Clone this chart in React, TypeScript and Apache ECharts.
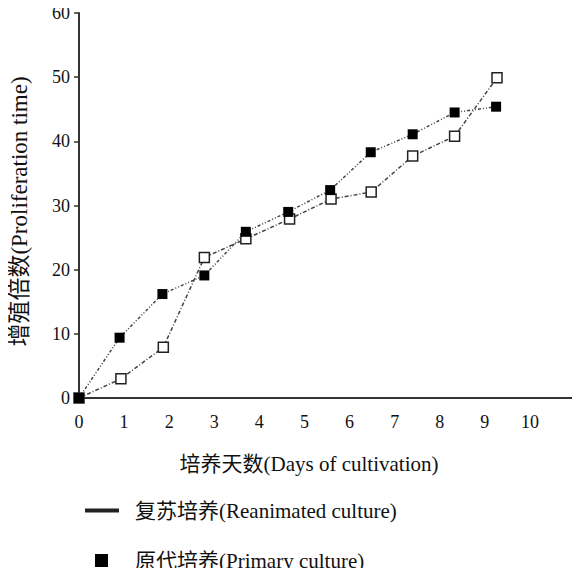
import React, { useEffect, useRef } from "react";
import * as echarts from "echarts";

const primaryDays = [0, 0.9, 1.85, 2.78, 3.7, 4.64, 5.57, 6.47, 7.4, 8.33, 9.25];
const primaryValues = [0, 9.4, 16.2, 19.1, 25.9, 29.0, 32.4, 38.3, 41.1, 44.5, 45.4];
const reanimatedDays = [0, 0.93, 1.87, 2.78, 3.7, 4.67, 5.59, 6.48, 7.4, 8.33, 9.27];
const reanimatedValues = [0, 3.0, 7.9, 21.9, 24.8, 27.9, 31.0, 32.1, 37.7, 40.8, 49.9];

const xAxisName = "培养天数(Days of cultivation)";
const yAxisName = "增殖倍数(Proliferation time)";
const reanimatedName = "复苏培养(Reanimated culture)";
const primaryName = "原代培养(Primary culture)";

const FONT = "Liberation Serif, Times New Roman, Noto Sans CJK SC, serif";
const INK = "#111111";

export default function App() {
  const ref = useRef<HTMLDivElement>(null);
  useEffect(() => {
    if (!ref.current) return;
    const chart = echarts.init(ref.current, undefined, { renderer: "svg" });
    chart.setOption({
      animation: false,
      backgroundColor: "#ffffff",
      textStyle: { fontFamily: FONT, color: INK },
      grid: { left: 75, right: 5, top: 13, bottom: 178, containLabel: false },
      xAxis: {
        type: "value",
        min: 0,
        max: 11,
        interval: 1,
        name: xAxisName,
        nameLocation: "middle",
        nameGap: 55,
        nameTextStyle: { fontSize: 21, color: INK, fontFamily: FONT, padding: [0, 36, 0, 0] },
        axisLine: { show: true, lineStyle: { color: "#333", width: 2 } },
        axisTick: { show: false },
        splitLine: { show: false },
        axisLabel: { fontSize: 18, color: INK, fontFamily: FONT, margin: 15, showMaxLabel: false },
      },
      yAxis: {
        type: "value",
        min: 0,
        max: 60,
        interval: 10,
        name: yAxisName,
        nameLocation: "middle",
        nameGap: 48,
        nameTextStyle: { fontSize: 23, color: INK, fontFamily: FONT, padding: [0, 12, 0, 0] },
        axisLine: { show: true, lineStyle: { color: "#333", width: 2 } },
        axisTick: { show: true, inside: false, length: 5, lineStyle: { color: "#333", width: 1.5 } },
        splitLine: { show: false },
        axisLabel: { fontSize: 18, color: INK, fontFamily: FONT, margin: 9 },
      },
      legend: [
        {
          data: [{ name: reanimatedName, icon: "rect" }],
          left: 80,
          top: 495,
          itemWidth: 32,
          itemHeight: 2,
          selectedMode: false,
          textStyle: { fontSize: 21, color: INK, fontFamily: FONT, padding: [0, 0, 0, 12] },
          itemStyle: { color: "#222" },
        },
        {
          data: [{ name: primaryName, icon: "rect" }],
          left: 90,
          top: 545,
          itemWidth: 13,
          itemHeight: 13,
          selectedMode: false,
          textStyle: { fontSize: 21, color: INK, fontFamily: FONT, padding: [0, 0, 0, 22] },
          itemStyle: { color: "#000" },
        },
      ],
      series: [
        {
          name: reanimatedName,
          type: "line",
          data: reanimatedDays.map((d, i) => [d, reanimatedValues[i]]),
          symbol: "rect",
          symbolSize: 10,
          itemStyle: { color: "#ffffff", borderColor: "#222", borderWidth: 1.5 },
          lineStyle: { color: "#444", width: 1.5, type: [4, 2, 1, 2] },
          color: "#222",
          z: 2,
        },
        {
          name: primaryName,
          type: "line",
          data: primaryDays.map((d, i) => [d, primaryValues[i]]),
          symbol: "rect",
          symbolSize: 10,
          itemStyle: { color: "#000", borderColor: "#000", borderWidth: 0 },
          lineStyle: { color: "#444", width: 1.5, type: [3, 2, 1, 2, 1, 2] },
          color: "#000",
          z: 3,
        },
      ],
    });
    return () => chart.dispose();
  }, []);
  return <div ref={ref} style={{ width: 580, height: 576, margin: -8 }} />;
}
